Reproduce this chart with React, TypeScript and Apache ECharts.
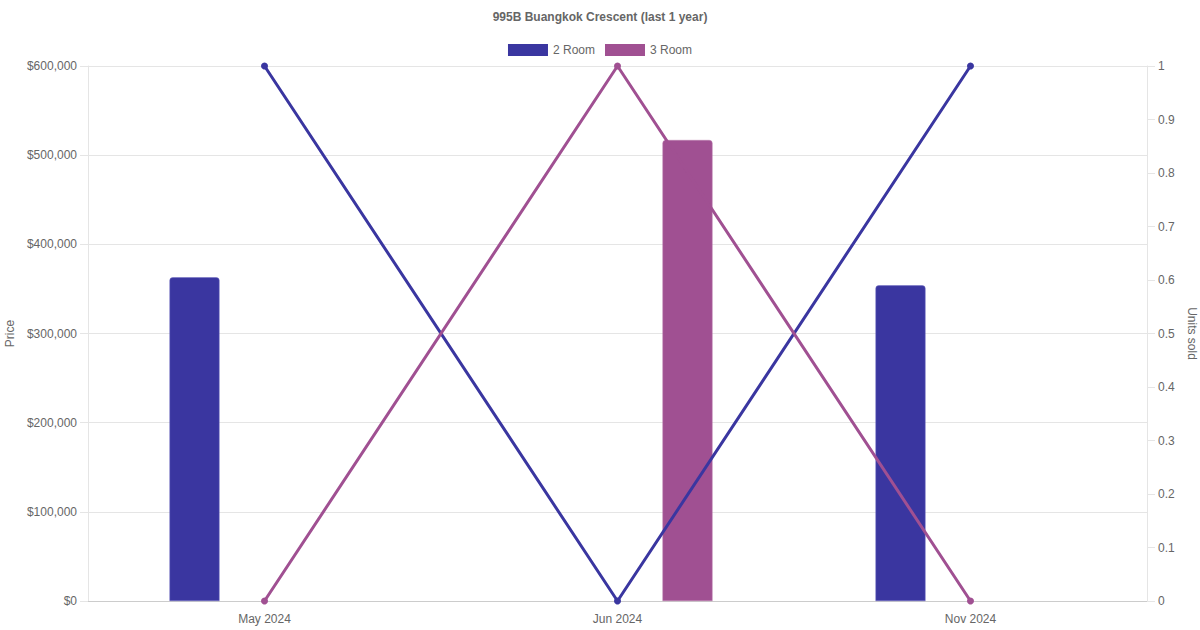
import React, { useEffect, useRef } from "react";
import * as echarts from "echarts";

const titleText = "995B Buangkok Crescent (last 1 year)";
const categories = ["May 2024", "Jun 2024", "Nov 2024"];
const seriesNames = ["2 Room", "3 Room"];
const price2Room: (number | null)[] = [363000, null, 354000];
const price3Room: (number | null)[] = [null, 517000, null];
const units2Room = [1, 0, 1];
const units3Room = [0, 1, 0];
const colors = ["#3a36a0", "#a05092"];
const borderColors = ["#6f6bc0", "#b97aad"];

const FONT = "'Liberation Sans', Arial, Helvetica, sans-serif";

export default function App() {
  const ref = useRef<HTMLDivElement>(null);
  useEffect(() => {
    if (!ref.current) return;
    const chart = echarts.init(ref.current, undefined, { renderer: "svg" });
    const txt = { fontFamily: FONT, fontSize: 12, color: "#666" };
    chart.setOption({
      animation: false,
      textStyle: { fontFamily: FONT },
      title: {
        text: titleText,
        left: "center",
        top: 6,
        textStyle: { ...txt, fontWeight: "bold" },
      },
      legend: {
        top: 39,
        left: "center",
        itemWidth: 40,
        itemHeight: 12,
        itemGap: 10,
        icon: "rect",
        textStyle: txt,
        itemStyle: { borderWidth: 0 },
        data: seriesNames,
      },
      grid: { left: 88, right: 53, top: 66, bottom: 29, containLabel: false, outerBoundsMode: "none" },
      xAxis: {
        type: "category",
        data: categories,
        boundaryGap: true,
        axisLine: { show: true, lineStyle: { color: "#cccccc", width: 1 } },
        axisTick: { show: false },
        axisLabel: { ...txt, margin: 12 },
        splitLine: { show: false },
      },
      yAxis: [
        {
          type: "value",
          min: 0,
          max: 600000,
          interval: 100000,
          name: "Price",
          nameLocation: "middle",
          nameGap: 71,
          nameRotate: 90,
          nameTextStyle: txt,
          axisLine: { show: true, lineStyle: { color: "#e5e5e5" } },
          axisTick: { show: true, length: 8, lineStyle: { color: "#e5e5e5" } },
          axisLabel: {
            ...txt,
            margin: 11,
            formatter: (v: number) => "$" + v.toLocaleString("en-US"),
          },
          splitLine: { show: true, lineStyle: { color: "#e5e5e5" } },
        },
        {
          type: "value",
          min: 0,
          max: 1,
          interval: 0.1,
          name: "Units sold",
          nameLocation: "middle",
          nameGap: 34,
          nameRotate: -90,
          nameTextStyle: txt,
          position: "right",
          axisLine: { show: true, lineStyle: { color: "#e5e5e5" } },
          axisTick: { show: true, length: 8, lineStyle: { color: "#e5e5e5" } },
          axisLabel: {
            ...txt,
            margin: 11,
            formatter: (v: number) => String(Math.round(v * 10) / 10),
          },
          splitLine: { show: false },
        },
      ],
      series: [
        {
          name: seriesNames[0],
          type: "bar",
          yAxisIndex: 0,
          data: price2Room,
          barWidth: 50,
          barGap: "180%",
          z: 2,
          itemStyle: {
            color: colors[0],
            borderColor: borderColors[0],
            borderWidth: 0.5,
            borderRadius: [3, 3, 0, 0],
          },
        },
        {
          name: seriesNames[1],
          type: "bar",
          yAxisIndex: 0,
          data: price3Room,
          barWidth: 50,
          barGap: "180%",
          z: 2,
          itemStyle: {
            color: colors[1],
            borderColor: borderColors[1],
            borderWidth: 0.5,
            borderRadius: [3, 3, 0, 0],
          },
        },
        {
          name: seriesNames[0],
          type: "line",
          yAxisIndex: 1,
          data: units2Room,
          z: 4,
          symbol: "circle",
          symbolSize: 7,
          lineStyle: { color: colors[0], width: 3 },
          itemStyle: { color: colors[0] },
        },
        {
          name: seriesNames[1],
          type: "line",
          yAxisIndex: 1,
          data: units3Room,
          z: 4,
          symbol: "circle",
          symbolSize: 7,
          lineStyle: { color: colors[1], width: 3 },
          itemStyle: { color: colors[1] },
        },
      ],
    });
    return () => chart.dispose();
  }, []);
  return (
    <div
      ref={ref}
      style={{ position: "absolute", left: 0, top: 0, width: 1200, height: 630, background: "#fff" }}
    />
  );
}
